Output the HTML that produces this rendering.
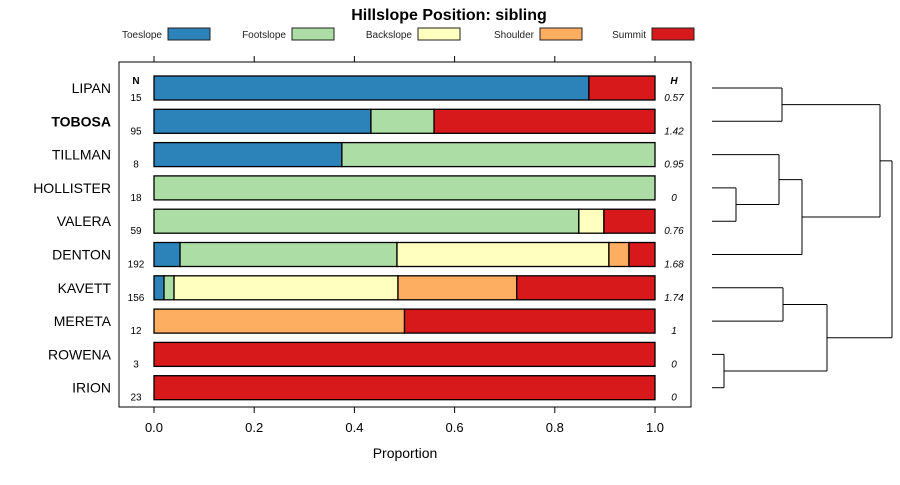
<!DOCTYPE html>
<html><head><meta charset="utf-8"><style>
body{margin:0;background:#fff}
svg text{font-family:"Liberation Sans",sans-serif}
</style></head><body>
<svg id="c" width="900" height="480" xmlns="http://www.w3.org/2000/svg">
<text x="449" y="20" font-size="16" font-weight="bold" text-anchor="middle">Hillslope Position: sibling</text>
<g id="legend"></g>
<rect x="119" y="62" width="572" height="345" fill="none" stroke="#000"/>
<g id="axes"></g><g id="bars"></g><g id="dendro"></g>
<text x="405" y="458" font-size="14" text-anchor="middle">Proportion</text>
<text x="136" y="84" font-size="10" font-weight="bold" text-anchor="middle">N</text>
<text x="674" y="84" font-size="10" font-weight="bold" font-style="italic" text-anchor="middle">H</text>
</svg>
<script>
const names=["LIPAN","TOBOSA","TILLMAN","HOLLISTER","VALERA","DENTON","KAVETT","MERETA","ROWENA","IRION"];
const counts=[15,95,8,18,59,192,156,12,3,23];
const entropy=["0.57","1.42","0.95","0","0.76","1.68","1.74","1","0","0"];
const classes=["Toeslope","Footslope","Backslope","Shoulder","Summit"];
const colors=["#2b83ba","#abdda4","#ffffbf","#fdae61","#d7191c"];
const toeslope=[0.868,0.433,0.375,0,0,0.052,0.02,0,0,0];
const footslope=[0,0.126,0.625,1,0.848,0.433,0.02,0,0,0];
const backslope=[0,0,0,0,0.05,0.423,0.447,0,0,0];
const shoulder=[0,0,0,0,0,0.04,0.237,0.5,0,0];
const summit=[0.132,0.441,0,0,0.102,0.052,0.276,0.5,1,1];
const ticks=[0,0.2,0.4,0.6,0.8,1.0];
const tickLabels=["0.0","0.2","0.4","0.6","0.8","1.0"];
const NS="http://www.w3.org/2000/svg";
const X=v=>154+v*501, Y=i=>88+i*33.3;
function mk(tag,at,parent,txt){const e=document.createElementNS(NS,tag);for(const k in at)e.setAttribute(k,at[k]);if(txt!==undefined)e.textContent=txt;parent.appendChild(e);return e;}
const lg=document.getElementById('legend');
const lgBox=[168,292,418,540,652];
classes.forEach((c,i)=>{
 const t=mk('text',{x:lgBox[i]-6,y:38,'font-size':10,'text-anchor':'end',fill:'#222'},lg,c);
 
 
 const r=mk('rect',{x:lgBox[i],y:28,width:42,height:12,fill:colors[i],stroke:'#222'},lg);
 
 
});
const ax=document.getElementById('axes');
ticks.forEach((t,i)=>{
 const a=mk('line',{x1:X(t),x2:X(t),y1:56,y2:62,stroke:'#000'},ax);
 
 
 const b=mk('line',{x1:X(t),x2:X(t),y1:407,y2:413,stroke:'#000'},ax);
 
 
 const l=mk('text',{x:X(t),y:432,'font-size':13,'text-anchor':'middle'},ax,tickLabels[i]);
 
 
});
const bg=document.getElementById('bars');
const series=[toeslope,footslope,backslope,shoulder,summit];
names.forEach((n,i)=>{
 const y=Y(i);
 const lab=mk('text',{x:111,y:y+5,'font-size':14,'text-anchor':'end','font-weight':n==="TOBOSA"?'bold':'normal'},bg,n);
 
 
 let acc=0;
 series.forEach((s,k)=>{
  if(s[i]>0){
   const r=mk('rect',{x:X(acc),y:y-12,width:X(acc+s[i])-X(acc),height:24,fill:colors[k],stroke:'#000','stroke-width':1.3},bg);
   
   
   acc+=s[i];
  }
 });
 const nt=mk('text',{x:136,y:y+13,'font-size':10,'text-anchor':'middle'},bg,counts[i]);
 
 
 const ht=mk('text',{x:674,y:y+13,'font-size':10,'font-style':'italic','text-anchor':'middle'},bg,entropy[i]);
 
 
});
const dg=document.getElementById('dendro');
// merges: [yTopChild, yBottomChild, height x]
function seg(x1,y1,x2,y2){const l=mk('line',{x1,y1,x2,y2,stroke:'#000','stroke-width':1},dg);}
function merge(a,b,x){seg(a.x,a.y,x,a.y);seg(b.x,b.y,x,b.y);seg(x,a.y,x,b.y);return {x:x,y:(a.y+b.y)/2};}
const leaf=i=>({x:712,y:Y(i)});
const m1=merge(leaf(0),leaf(1),782);
const m2=merge(leaf(3),leaf(4),736);
const m3=merge(leaf(2),m2,779);
const m4=merge(m3,leaf(5),802);
const m5=merge(m1,m4,880);
const m6=merge(leaf(6),leaf(7),783);
const m7=merge(leaf(8),leaf(9),724);
const m8=merge(m6,m7,827);
merge(m5,m8,892);
</script>
</body></html>
